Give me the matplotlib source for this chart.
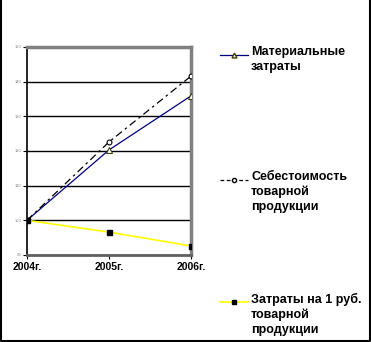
import matplotlib.pyplot as plt
from matplotlib.lines import Line2D

plt.rcParams['font.family'] = ['Liberation Sans', 'DejaVu Sans']

# данные
years = ["2004г.", "2005г.", "2006г."]
material = [100, 120.3, 135.9]
sebest = [100, 122.6, 141.6]
zatraty_rub = [100, 96.6, 92.6]
labels = ["Материальные\nзатраты",
          "Себестоимость\nтоварной\nпродукции",
          "Затраты на 1 руб.\nтоварной\nпродукции"]
y_ticks = [90, 100, 110, 120, 130, 140, 150]

W, H = 371, 342
fig = plt.figure(figsize=(W / 100, H / 100), dpi=100)
ax = fig.add_axes([27 / W, (H - 255) / H, 164 / W, 208 / H])

x = range(len(years))
ax.plot(x, material, color="#000080", lw=0.9, marker="^", ms=4,
        mfc="white", mec="#404000", mew=0.8, zorder=3)
ax.plot(x, sebest, color="black", lw=0.9, ls=(0, (6, 3, 2, 3)), marker="o", ms=3.5,
        mfc="white", mec="black", mew=0.8, zorder=3)
ax.plot(x, zatraty_rub, color="#FFFF00", lw=1.2, marker="s", ms=3.6,
        mfc="black", mec="black", zorder=3)

ax.set_xlim(0, 2)
ax.set_ylim(90, 150)
ax.set_yticks(y_ticks)
ax.set_yticklabels([str(v) for v in y_ticks], fontsize=3, color="#888888")
ax.set_xticks(list(x))
ax.set_xticklabels(years, fontsize=7.5, fontweight="bold")
ax.tick_params(axis="y", length=3, width=0.8, pad=1)
ax.tick_params(axis="x", length=3, width=0.8, pad=2)
ax.yaxis.grid(True, color="black", lw=1)
ax.set_axisbelow(True)
for side in ["top", "right"]:
    ax.spines[side].set_color("#808080")
    ax.spines[side].set_linewidth(2.5)
ax.spines["left"].set_linewidth(1.2)
ax.spines["left"].set_color("black")
ax.spines["bottom"].set_color("#606060")
ax.spines["bottom"].set_linewidth(2)

# легенда вручную
leg_y = [55, 180, 302]
styles = [
    dict(color="#000080", lw=0.9, marker="^", ms=3.5, mfc="white", mec="#404000"),
    dict(color="black", lw=0.9, ls=(0, (3, 2)), marker="o", ms=3, mfc="white", mec="black"),
    dict(color="#FFFF00", lw=1.2, marker="s", ms=3.5, mfc="black", mec="black"),
]
for yy, st, lab in zip(leg_y, styles, labels):
    fy = 1 - yy / H
    fig.add_artist(Line2D([220 / W, 234 / W, 248 / W], [fy, fy, fy],
                          markevery=[1], transform=fig.transFigure, **st))
    fig.text(251 / W, 1 - (yy - 9) / H, lab, fontsize=9, fontweight="bold",
             va="top", ha="left", linespacing=1.3)

# рамка
fig.add_artist(Line2D([1 / W, 1 / W, 369.5 / W, 369.5 / W], [1, 1 / H, 1 / H, 1],
                      color="black", lw=1.5, transform=fig.transFigure))

fig.savefig("out.png", dpi=100)
